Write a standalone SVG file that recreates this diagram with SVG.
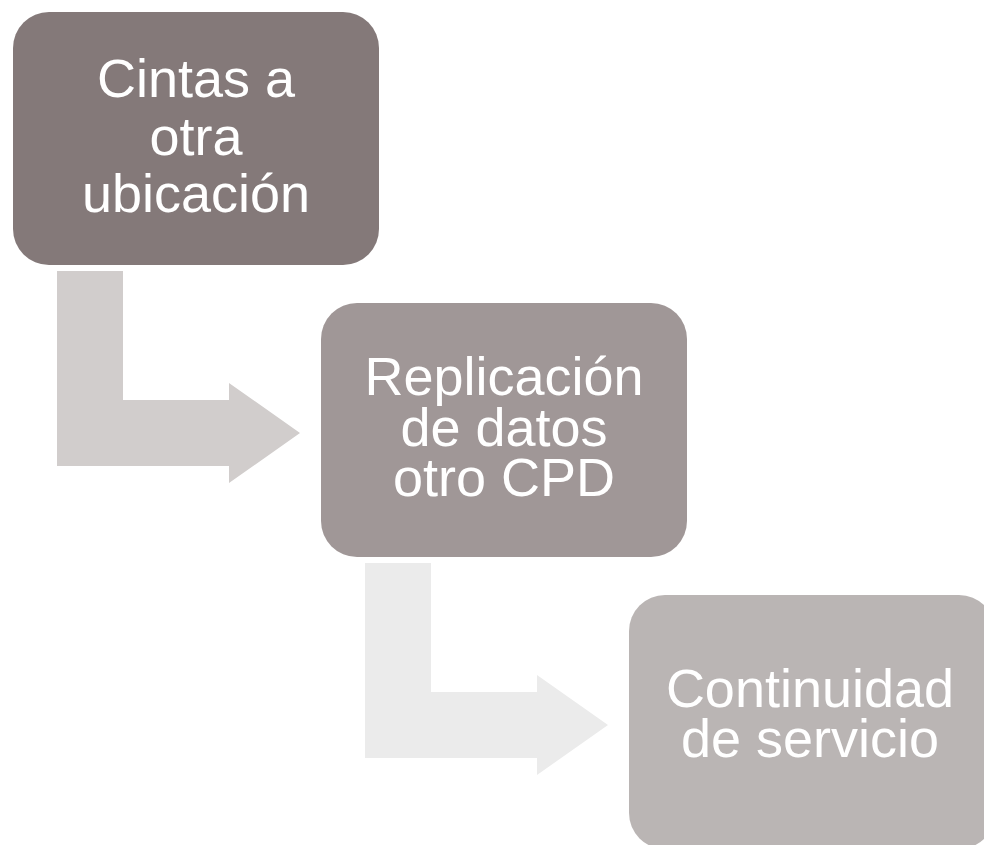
<svg xmlns="http://www.w3.org/2000/svg" width="984" height="845" viewBox="0 0 984 845">
  <style>
    .lbl { font-family: "Liberation Sans", Arial, sans-serif; font-size: 54px; fill: #ffffff; text-anchor: middle; }
  </style>
  <rect width="984" height="845" fill="#ffffff"/>
  <g id="connectors">
    <path id="arrow1" d="M57 271 H123 V400 H229 V383 L300 433 L229 483 V466 H57 Z" fill="#d1cdcc"/>
    <path id="arrow2" d="M365 563 H431 V692 H537 V675 L608 725 L537 775 V758 H365 Z" fill="#ebebeb"/>
  </g>
  <g id="node1">
    <rect x="13" y="12" width="366" height="253" rx="36" ry="36" fill="#847979"/>
    <text class="lbl" x="196" y="97">Cintas a</text>
    <text class="lbl" x="196" y="154.5">otra</text>
    <text class="lbl" x="196" y="212">ubicación</text>
  </g>
  <g id="node2">
    <rect x="321" y="303" width="366" height="254" rx="36" ry="36" fill="#a09797"/>
    <text class="lbl" x="504" y="395">Replicación</text>
    <text class="lbl" x="504" y="446">de datos</text>
    <text class="lbl" x="504" y="496">otro CPD</text>
  </g>
  <g id="node3">
    <rect x="629" y="595" width="366" height="254" rx="36" ry="36" fill="#bab5b4"/>
    <text class="lbl" x="810" y="707">Continuidad</text>
    <text class="lbl" x="810" y="757">de servicio</text>
  </g>
</svg>
